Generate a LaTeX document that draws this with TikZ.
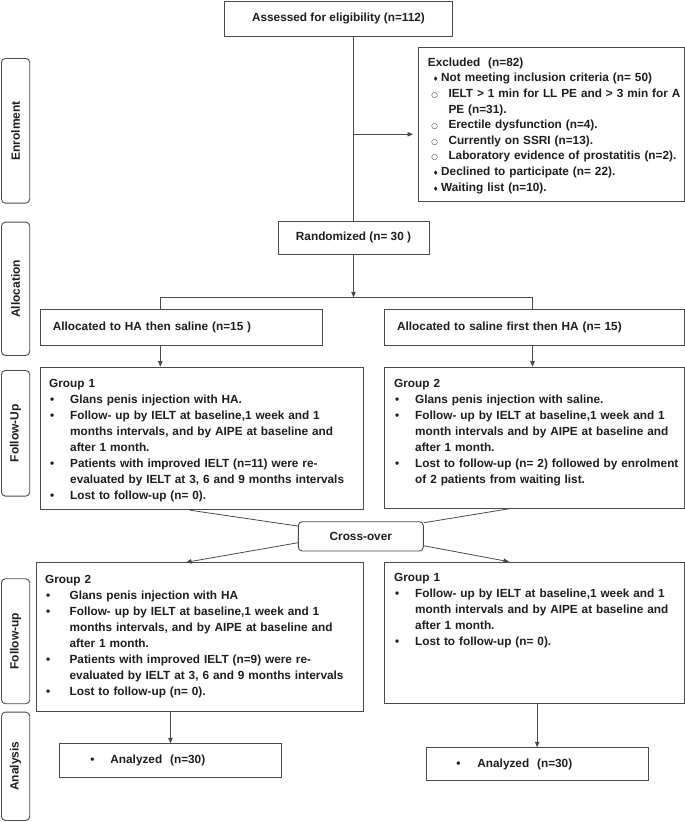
\documentclass[tikz,border=0pt]{standalone}
\usepackage{fontspec}
\setmainfont{Liberation Sans}
\newfontfamily\symf{DejaVu Sans}
\usetikzlibrary{arrows.meta,calc}
\definecolor{ink}{HTML}{1E1E1E}
\definecolor{edge}{HTML}{4A4A4A}
\newcommand\bul[1][21pt]{\makebox[#1][l]{\hspace{0.8pt}•}}
\newcommand\ind[1][21pt]{\hspace*{#1}}
\newcommand\dia{\makebox[13.3pt][l]{\hspace{5pt}{\symf\fontsize{6.5}{7}\selectfont ♦}}}
\newcommand\cir{\makebox[20.6pt][l]{\hspace{3.5pt}{\symf\fontsize{7.5}{8}\selectfont ○}}}
\newcommand\cind{\hspace*{20.6pt}}
\tikzset{
  boxst/.style={draw=edge, line width=0.9pt, rectangle, inner sep=0pt, anchor=north west},
  boxtxt/.style={text=ink, font=\fontsize{11.8}{16}\selectfont\bfseries},
  sidest/.style={draw=edge, line width=0.9pt, rounded corners=4pt, inner sep=0pt, anchor=north west, minimum width=28.3pt},
  sidelab/.style={rotate=90, inner sep=0pt, text=ink, font=\fontsize{12}{14}\selectfont\bfseries},
  txt/.style={anchor=base west, inner sep=0pt, align=left, text width=320pt, text=ink, font=\fontsize{11.8}{16}\selectfont\bfseries},
  line/.style={draw=edge, line width=0.8pt},
  arr/.style={line, -{Triangle[length=5.5pt,width=4.5pt]}},
}
\begin{document}
\begin{tikzpicture}[x=1pt,y=-1pt]
\useasboundingbox (0,0) rectangle (685,822);
\fill[white] (0,0) rectangle (685,822);

% side labels
\node[sidest, minimum height=144.7pt] (sEn) at (1,58) {};
\node[sidelab] (sEnT) at (sEn.center) {Enrolment};
\node[sidest, minimum height=133.3pt] (sAl) at (1,221.7) {};
\node[sidelab] (sAlT) at (sAl.center) {Allocation};
\node[sidest, minimum height=125.7pt] (sFa) at (1,370) {};
\node[sidelab] (sFaT) at (sFa.center) {Follow-Up};
\node[sidest, minimum height=125pt] (sFb) at (1,578.3) {};
\node[sidelab] (sFbT) at (sFb.center) {Follow-up};
\node[sidest, minimum height=108.3pt] (sAn) at (1,711.7) {};
\node[sidelab] (sAnT) at (sAn.center) {Analysis};

% main boxes
\node[boxst, boxtxt, anchor=center, minimum width=228pt, minimum height=35pt] (ass) at (338.5,18.5) {Assessed for eligibility (n=112)};
\node[boxst, minimum width=266pt, minimum height=154.5pt] (exc) at (418,46.5) {};
\node[txt, font=\fontsize{11.8}{15.6}\selectfont\bfseries] (excT) at (427.7,66.3) {Excluded\ \ (n=82)\\
\dia Not meeting inclusion criteria (n= 50)\\
\cir IELT > 1 min for LL PE and > 3 min for A\\
\cind PE (n=31).\\
\cir Erectile dysfunction (n=4).\\
\cir Currently on SSRI (n=13).\\
\cir Laboratory evidence of prostatitis (n=2).\\
\dia Declined to participate (n= 22).\\
\dia Waiting list (n=10).};
\node[boxst, boxtxt, anchor=center, minimum width=151pt, minimum height=33pt] (rnd) at (353.5,237.5) {Randomized (n= 30 )};

\node[boxst, boxtxt, align=left, inner xsep=12.6pt, text width=257pt, minimum height=36pt] (al1) at (39.8,309) {Allocated to HA then saline (n=15 )};
\node[boxst, boxtxt, align=left, inner xsep=12.3pt, text width=275pt, minimum height=36pt] (al2) at (384.4,309) {Allocated to saline first then HA (n= 15)};

\node[boxst, minimum width=322.8pt, minimum height=142.6pt] (fu1) at (39.8,366.7) {};
\node[txt] (fu1T) at (49,387.3) {Group 1\\
\bul Glans penis injection with HA.\\
\bul Follow- up by IELT at baseline,1 week and 1\\
\ind months intervals, and by AIPE at baseline and\\
\ind after 1 month.\\
\bul Patients with improved IELT (n=11) were re-\\
\ind evaluated by IELT at 3, 6 and 9 months intervals\\
\bul Lost to follow-up (n= 0).};

\node[boxst, minimum width=299.6pt, minimum height=141pt] (fu2) at (384.4,366.7) {};
\node[txt] (fu2T) at (394,387.3) {Group 2\\
\bul Glans penis injection with saline.\\
\bul Follow- up by IELT at baseline,1 week and 1\\
\ind month intervals and by AIPE at baseline and\\
\ind after 1 month.\\
\bul Lost to follow-up (n= 2) followed by enrolment\\
\ind of 2 patients from waiting list.};

\node[boxst, boxtxt, anchor=center, rounded corners=4pt, minimum width=125pt, minimum height=29.3pt] (co) at (360.8,536.35) {Cross-over};

\node[boxst, minimum width=327.1pt, minimum height=148.5pt] (lg2) at (35.5,562.3) {};
\node[txt] (lg2T) at (45,583) {Group 2\\
\bul[20.5pt] Glans penis injection with HA\\
\bul[20.5pt] Follow- up by IELT at baseline,1 week and 1\\
\ind[20.5pt] months intervals, and by AIPE at baseline and\\
\ind[20.5pt] after 1 month.\\
\bul[20.5pt] Patients with improved IELT (n=9) were re-\\
\ind[20.5pt] evaluated by IELT at 3, 6 and 9 months intervals\\
\bul[20.5pt] Lost to follow-up (n= 0).};

\node[boxst, minimum width=299.6pt, minimum height=141.6pt] (lg1) at (384.4,561.7) {};
\node[txt] (lg1T) at (394,581.7) {Group 1\\
\bul Follow- up by IELT at baseline,1 week and 1\\
\ind month intervals and by AIPE at baseline and\\
\ind after 1 month.\\
\bul Lost to follow-up (n= 0).};

\node[boxst, boxtxt, align=left, inner xsep=31pt, text width=160pt, minimum height=34pt] (an1) at (59,743.3) {\makebox[20pt][l]{•}Analyzed\ \ (n=30)};
\node[boxst, boxtxt, align=left, inner xsep=30.5pt, text width=161.5pt, minimum height=32.7pt] (an2) at (425.5,747.3) {\makebox[21pt][l]{•}Analyzed\ \ (n=30)};

% connectors
\coordinate (ey) at (0,134.3);
\coordinate (brL) at (160.3,297.3);
\coordinate (brR) at (532.5,297.3);
\coordinate (cxL) at (190,0);
\coordinate (cxR) at (510,0);
\coordinate (axL) at (186,0);
\coordinate (axR) at (509,0);
\draw[line] (ass.south -| rnd.north) -- (rnd.north);
\draw[arr, shorten >=5pt] (rnd.north |- ey) -- (exc.west |- ey);
\draw[arr] (rnd.south) -- (rnd.south |- brL);
\draw[line] (al1.north -| brL) -- (brL) -- (brR) -- (al2.north -| brR);
\draw[arr] (al1.south -| brL) -- (fu1.north -| brL);
\draw[arr] (al2.south -| brR) -- (fu2.north -| brR);
\draw[line] (fu1.south -| cxL) -- ([yshift=10.3pt]co.west);
\draw[line] (fu2.south -| cxR) -- ([yshift=13.6pt]co.east);
\draw[arr] ([yshift=-6.4pt]co.west) -- (lg2.north -| axL);
\draw[arr] ([yshift=-9.4pt]co.east) -- (lg1.north -| axR);
\draw[arr] (an1.north |- lg2.south) -- (an1.north);
\draw[arr] (an2.north |- lg1.south) -- (an2.north);
\end{tikzpicture}
\end{document}
